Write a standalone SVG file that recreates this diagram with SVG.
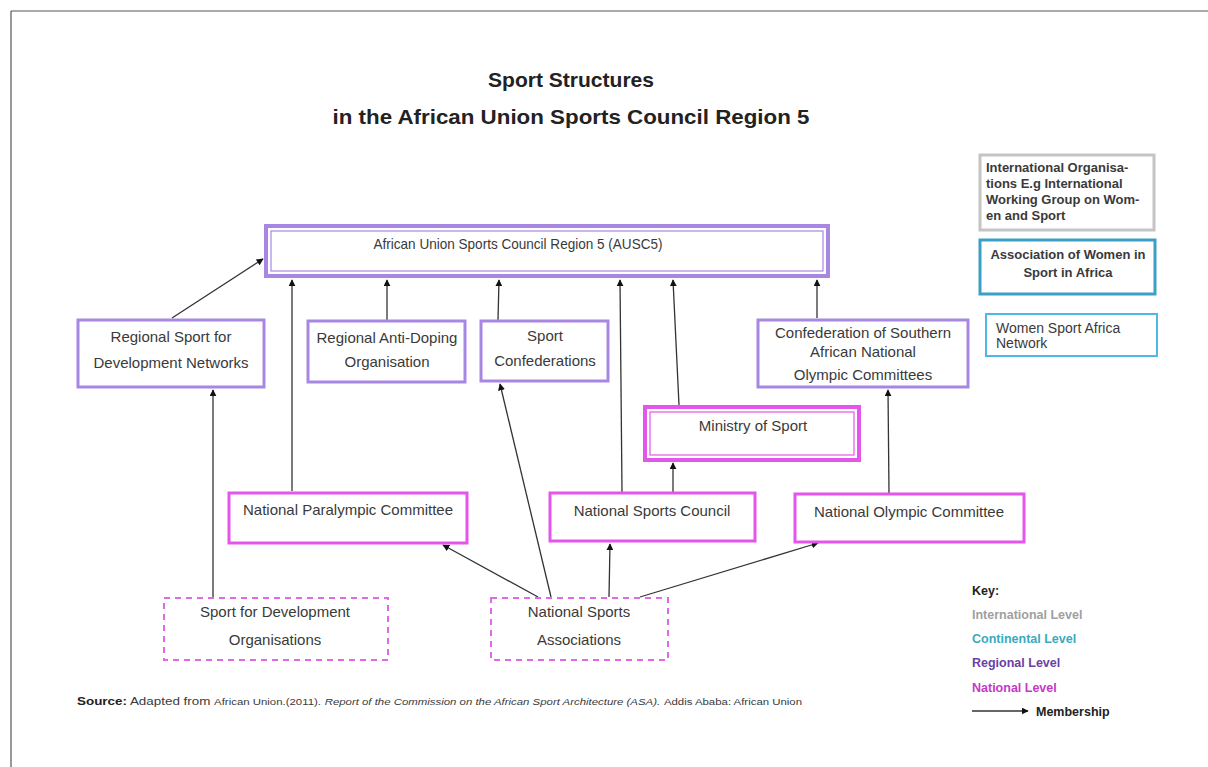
<svg xmlns="http://www.w3.org/2000/svg" width="1208" height="767" viewBox="0 0 1208 767">
<defs>
<marker id="ah" viewBox="0 0 10 10" refX="9" refY="5" markerWidth="7" markerHeight="7" markerUnits="userSpaceOnUse" orient="auto">
<path d="M0,0 L10,5 L0,10 z" fill="#111"/>
</marker>
<style>
text{font-family:"Liberation Sans",Arial,sans-serif;fill:#3a3a3a}
.t{font-size:21px;font-weight:bold;fill:#222;text-anchor:middle}
.l{font-size:15px;text-anchor:middle}
.reg{fill:#fff;stroke:#a887e2;stroke-width:3}
.nat{fill:#fff;stroke:#e455ec;stroke-width:3}
.dash{fill:#fff;stroke:#e06ae6;stroke-width:2;stroke-dasharray:6,5}
.c{fill:none;stroke:#333;stroke-width:1.3;marker-end:url(#ah)}
.k{font-size:12.5px;font-weight:bold}
.ib{font-size:13px;font-weight:bold}
</style>
</defs>
<rect width="1208" height="767" fill="#fff"/>
<g id="page">
<line x1="11" y1="11" x2="1208" y2="11" stroke="#555" stroke-width="1.2"/>
<line x1="11" y1="11" x2="11" y2="767" stroke="#555" stroke-width="1.2"/>
</g>
<g id="title">
<text class="t" x="571" y="87" textLength="166" lengthAdjust="spacingAndGlyphs">Sport Structures</text>
<text class="t" x="571" y="124" textLength="477" lengthAdjust="spacingAndGlyphs">in the African Union Sports Council Region 5</text>
</g>
<g id="connectors">
<line class="c" x1="172" y1="318" x2="263" y2="259"/>
<line class="c" x1="213" y1="597" x2="213" y2="390"/>
<line class="c" x1="292" y1="491" x2="292" y2="280"/>
<line class="c" x1="387" y1="320" x2="387" y2="280"/>
<line class="c" x1="498" y1="320" x2="499" y2="280"/>
<line class="c" x1="622" y1="492" x2="620" y2="280"/>
<line class="c" x1="679" y1="405" x2="673" y2="280"/>
<line class="c" x1="817" y1="318" x2="817" y2="280"/>
<line class="c" x1="673" y1="492" x2="673" y2="463"/>
<line class="c" x1="889" y1="493" x2="888" y2="390"/>
<line class="c" x1="551" y1="597" x2="500" y2="384"/>
<line class="c" x1="538" y1="597" x2="443" y2="545"/>
<line class="c" x1="609" y1="597" x2="610" y2="544"/>
<line class="c" x1="640" y1="597" x2="818" y2="543"/>
</g>
<g id="ausc5">
<rect x="266" y="226" width="562" height="50" fill="#fff" stroke="#a887e2" stroke-width="4"/>
<rect x="271" y="231" width="552" height="40" fill="none" stroke="#a887e2" stroke-width="1.2"/>
<text class="l" x="518" y="249" font-size="14.5" style="font-size:14.5px" textLength="289" lengthAdjust="spacingAndGlyphs">African Union Sports Council Region 5 (AUSC5)</text>
</g>
<g id="rsdn">
<rect class="reg" x="78" y="320" width="186" height="67"/>
<text class="l" x="171" y="342">Regional Sport for</text>
<text class="l" x="171" y="368">Development Networks</text>
</g>
<g id="rado">
<rect class="reg" x="308" y="321" width="157" height="61"/>
<text class="l" x="387" y="343">Regional Anti-Doping</text>
<text class="l" x="387" y="367">Organisation</text>
</g>
<g id="sconf">
<rect class="reg" x="481" y="321" width="127" height="60"/>
<text class="l" x="545" y="341">Sport</text>
<text class="l" x="545" y="366">Confederations</text>
</g>
<g id="csanoc">
<rect class="reg" x="758" y="320" width="210" height="67"/>
<text class="l" x="863" y="338">Confederation of Southern</text>
<text class="l" x="863" y="357">African National</text>
<text class="l" x="863" y="380">Olympic Committees</text>
</g>
<g id="ministry">
<rect x="645" y="407" width="214" height="53" fill="#fff" stroke="#e455ec" stroke-width="4"/>
<rect x="650" y="412" width="204" height="43" fill="none" stroke="#e455ec" stroke-width="1.2"/>
<text class="l" x="753" y="431">Ministry of Sport</text>
</g>
<g id="npc">
<rect class="nat" x="229" y="493" width="238" height="50"/>
<text class="l" x="348" y="515">National Paralympic Committee</text>
</g>
<g id="nsc">
<rect class="nat" x="550" y="493" width="205" height="48"/>
<text class="l" x="652" y="516">National Sports Council</text>
</g>
<g id="noc">
<rect class="nat" x="795" y="494" width="229" height="48"/>
<text class="l" x="909" y="517">National Olympic Committee</text>
</g>
<g id="sdo">
<rect class="dash" x="164" y="598" width="224" height="62"/>
<text class="l" x="275" y="617">Sport for Development</text>
<text class="l" x="275" y="645">Organisations</text>
</g>
<g id="nsa">
<rect class="dash" x="491" y="598" width="177" height="62"/>
<text class="l" x="579" y="617">National Sports</text>
<text class="l" x="579" y="645">Associations</text>
</g>
<g id="intl">
<rect x="980" y="155" width="174" height="75" fill="#fff" stroke="#c4c4c4" stroke-width="3"/>
<text class="ib" x="986" y="172">International Organisa-</text>
<text class="ib" x="986" y="188">tions E.g International</text>
<text class="ib" x="986" y="204">Working Group on Wom-</text>
<text class="ib" x="986" y="220">en and Sport</text>
</g>
<g id="awisa">
<rect x="980" y="240" width="175" height="54" fill="#fff" stroke="#3b9fc6" stroke-width="3"/>
<text class="ib" text-anchor="middle" x="1068" y="259">Association of Women in</text>
<text class="ib" text-anchor="middle" x="1068" y="277">Sport in Africa</text>
</g>
<g id="wsan">
<rect x="986" y="314" width="171" height="42" fill="#fff" stroke="#4db9ea" stroke-width="2"/>
<text font-size="14" x="996" y="333">Women Sport Africa</text>
<text font-size="14" x="996" y="348">Network</text>
</g>
<g id="key">
<text class="k" x="972" y="595" style="fill:#222">Key:</text>
<text class="k" x="972" y="619" style="fill:#a0a0a0">International Level</text>
<text class="k" x="972" y="643" style="fill:#3aaac0">Continental Level</text>
<text class="k" x="972" y="667" style="fill:#6a3fa6">Regional Level</text>
<text class="k" x="972" y="692" style="fill:#c53ac8">National Level</text>
<line class="c" x1="972" y1="711" x2="1028" y2="711"/>
<text class="k" x="1036" y="716" style="fill:#222">Membership</text>
</g>
<g id="source">
<text x="77" y="705" font-size="10" textLength="725" lengthAdjust="spacingAndGlyphs"><tspan font-weight="bold" style="fill:#222">Source:</tspan> Adapted from <tspan font-size="8.5">African Union.(2011).</tspan> <tspan font-style="italic" font-size="8.5">Report of the Commission on the African Sport Architecture (ASA).</tspan>  <tspan font-size="8.5">Addis Ababa: African Union</tspan></text>
</g>
</svg>
